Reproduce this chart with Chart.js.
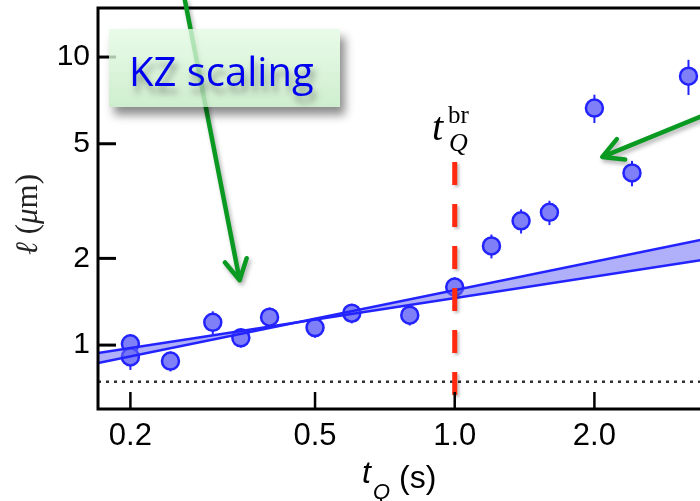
<!DOCTYPE html>
<html>
<head>
<meta charset="utf-8">
<script src="https://cdn.jsdelivr.net/npm/chart.js@4"></script>
<style>
  body { margin: 0; background: #fff; }
  #wrap { width: 700px; height: 501px; overflow: hidden; }
</style>
</head>
<body>
<div id="wrap"><canvas id="lengthChart" width="720" height="501"></canvas></div>
<script>
// quench time (s) vs. domain size (um)
var tQ = [0.2, 0.2, 0.244, 0.301, 0.346, 0.399, 0.50, 0.60, 0.80, 1.0, 1.20, 1.39, 1.60, 2.0, 2.41, 3.19];
var ell = [1.01, 0.91, 0.88, 1.20, 1.06, 1.25, 1.15, 1.29, 1.27, 1.59, 2.21, 2.70, 2.89, 6.65, 3.96, 8.58];
var ellErr = [0.08, 0.09, 0.07, 0.11, 0.08, 0.10, 0.09, 0.10, 0.10, 0.13, 0.21, 0.26, 0.28, 0.75, 0.40, 1.2];

// power-law fit band (two bounding lines)
var fitT = [0.1703, 3.73];
var fitSteep = [0.866, 2.39];
var fitShallow = [0.938, 2.02];

var xTicks = [0.2, 0.5, 1.0, 2.0];
var yTicks = [1, 2, 5, 10];

var floorLevel = 0.746;          // dotted resolution limit
var tBreak = 1.0;                // breakdown time
var breakSpan = [0.665, 4.32];

// annotation arrows: [t, ell] tail -> tip
var arrowTails = [[0.262, 15.8], [3.6, 6.46]];
var arrowTips = [[0.344, 1.68], [2.08, 4.50]];

var BLUE = '#2323ff';
var GREEN = '#0a9a22';

function drawArrow(ctx, x0, y0, x1, y1) {
    var ang = Math.atan2(y0 - y1, x0 - x1);
    var len = 23, spread = 0.5;
    ctx.beginPath();
    ctx.moveTo(x0, y0);
    ctx.lineTo(x1, y1);
    ctx.moveTo(x1 + len * Math.cos(ang - spread), y1 + len * Math.sin(ang - spread));
    ctx.lineTo(x1, y1);
    ctx.lineTo(x1 + len * Math.cos(ang + spread), y1 + len * Math.sin(ang + spread));
    ctx.stroke();
}

var decorations = {
    id: 'decorations',
    beforeDatasetsDraw: function(chart) {
        var ctx = chart.ctx, a = chart.chartArea;
        var xs = chart.scales.x, ys = chart.scales.y;
        ctx.save();
        ctx.beginPath();
        ctx.rect(a.left, a.top, a.right - a.left, a.bottom - a.top);
        ctx.clip();
        // dotted floor
        var yf = ys.getPixelForValue(floorLevel);
        ctx.strokeStyle = '#333';
        ctx.lineWidth = 2.5;
        ctx.setLineDash([3, 5]);
        ctx.beginPath();
        ctx.moveTo(a.left, yf);
        ctx.lineTo(a.right, yf);
        ctx.stroke();
        ctx.setLineDash([]);
        // error bars
        ctx.strokeStyle = BLUE;
        ctx.lineWidth = 2;
        for (var i = 0; i < tQ.length; i++) {
            var x = xs.getPixelForValue(tQ[i]);
            ctx.beginPath();
            ctx.moveTo(x, ys.getPixelForValue(ell[i] - ellErr[i]));
            ctx.lineTo(x, ys.getPixelForValue(ell[i] + ellErr[i]));
            ctx.stroke();
        }
        ctx.restore();
    },
    afterDatasetsDraw: function(chart) {
        var ctx = chart.ctx;
        var xs = chart.scales.x, ys = chart.scales.y;
        // breakdown marker
        var xb = xs.getPixelForValue(tBreak);
        ctx.save();
        ctx.shadowColor = 'rgba(0,0,0,0.25)';
        ctx.shadowBlur = 3;
        ctx.shadowOffsetX = 2;
        ctx.shadowOffsetY = 2;
        ctx.strokeStyle = '#ff2a10';
        ctx.lineWidth = 5;
        ctx.setLineDash([23, 19]);
        ctx.beginPath();
        ctx.moveTo(xb, ys.getPixelForValue(breakSpan[1]));
        ctx.lineTo(xb, ys.getPixelForValue(breakSpan[0]));
        ctx.stroke();
        ctx.restore();
    },
    afterDraw: function(chart) {
        var ctx = chart.ctx, a = chart.chartArea;
        var xs = chart.scales.x, ys = chart.scales.y;
        ctx.save();
        // frame
        ctx.strokeStyle = '#000';
        ctx.lineWidth = 3;
        ctx.strokeRect(a.left, a.top, a.right - a.left, a.bottom - a.top);
        // inward ticks
        ctx.lineWidth = 2.5;
        xTicks.forEach(function(v) {
            var x = xs.getPixelForValue(v);
            ctx.beginPath();
            ctx.moveTo(x, a.bottom);
            ctx.lineTo(x, a.bottom - 17);
            ctx.stroke();
        });
        ctx.lineWidth = 3;
        yTicks.forEach(function(v) {
            var y = ys.getPixelForValue(v);
            ctx.beginPath();
            ctx.moveTo(a.left, y);
            ctx.lineTo(a.left + 18, y);
            ctx.stroke();
        });

        // green arrows
        ctx.save();
        ctx.shadowColor = 'rgba(0,0,0,0.3)';
        ctx.shadowBlur = 4;
        ctx.shadowOffsetX = 2;
        ctx.shadowOffsetY = 3;
        ctx.strokeStyle = GREEN;
        ctx.lineWidth = 4.5;
        ctx.lineCap = 'round';
        ctx.lineJoin = 'round';
        for (var k = 0; k < arrowTails.length; k++) {
            drawArrow(ctx,
                xs.getPixelForValue(arrowTails[k][0]), ys.getPixelForValue(arrowTails[k][1]),
                xs.getPixelForValue(arrowTips[k][0]), ys.getPixelForValue(arrowTips[k][1]));
        }
        ctx.restore();

        // "KZ scaling" callout
        var bx = 109, by = 29, bw = 231, bh = 78;
        ctx.save();
        ctx.beginPath();
        ctx.rect(0, 0, chart.width, chart.height);
        ctx.rect(bx, by, bw, bh);
        ctx.clip('evenodd');
        ctx.shadowColor = 'rgba(0,0,0,0.45)';
        ctx.shadowBlur = 9;
        ctx.shadowOffsetX = 5;
        ctx.shadowOffsetY = 8;
        ctx.fillStyle = '#888';
        ctx.fillRect(bx, by, bw, bh);
        ctx.restore();
        var g = ctx.createLinearGradient(0, by, 0, by + bh);
        g.addColorStop(0, 'rgba(226,250,226,0.78)');
        g.addColorStop(1, 'rgba(196,234,196,0.82)');
        ctx.fillStyle = g;
        ctx.fillRect(bx, by, bw, bh);
        ctx.save();
        ctx.shadowColor = 'rgba(0,0,0,0.35)';
        ctx.shadowBlur = 6;
        ctx.shadowOffsetX = 3;
        ctx.shadowOffsetY = 7;
        ctx.fillStyle = '#0000f0';
        ctx.font = '40px "Open Sans"';
        ctx.textBaseline = 'alphabetic';
        ctx.fillText('KZ scaling', 129, 86);
        ctx.restore();

        // t_Q^br label
        ctx.fillStyle = '#000';
        ctx.font = 'italic 40px "Liberation Serif"';
        ctx.fillText('t', 432, 140);
        ctx.font = 'italic 26px "Liberation Serif"';
        ctx.fillText('Q', 449, 151);
        ctx.font = '25px "Liberation Serif"';
        ctx.fillText('br', 448, 123);

        // x title
        ctx.font = 'italic 32px "Liberation Sans"';
        ctx.fillText('t', 362, 483);
        ctx.font = 'italic 22px "Liberation Sans"';
        ctx.fillText('Q', 373, 499);
        ctx.font = '32px "Liberation Sans"';
        ctx.fillText('(s)', 399, 488);

        // y title
        ctx.fillStyle = '#222';
        ctx.translate(37, 255);
        ctx.rotate(-Math.PI / 2);
        ctx.font = 'italic 31px "Liberation Serif"';
        ctx.fillText('\u2113', 0, 0);
        var w = ctx.measureText('\u2113 ').width;
        ctx.font = '31px "Liberation Serif"';
        ctx.fillText('(', w, 0);
        w += ctx.measureText('(').width;
        ctx.font = 'italic 31px "Liberation Serif"';
        ctx.fillText('\u03bc', w, 0);
        w += ctx.measureText('\u03bc').width;
        ctx.font = '31px "Liberation Serif"';
        ctx.fillText('m)', w, 0);
        ctx.restore();
    }
};

var points = tQ.map(function(t, i) { return { x: t, y: ell[i] }; });
var steepLine = fitT.map(function(t, i) { return { x: t, y: fitSteep[i] }; });
var shallowLine = fitT.map(function(t, i) { return { x: t, y: fitShallow[i] }; });

new Chart(document.getElementById('lengthChart'), {
    type: 'scatter',
    data: {
        datasets: [{
            data: points,
            order: 2,
            pointRadius: 8.5,
            pointBackgroundColor: '#7f80f7',
            pointBorderColor: BLUE,
            pointBorderWidth: 2.5
        }, {
            data: steepLine,
            order: 1,
            showLine: true,
            pointRadius: 0,
            borderColor: BLUE,
            borderWidth: 2.5,
            fill: false
        }, {
            data: shallowLine,
            order: 1,
            showLine: true,
            pointRadius: 0,
            borderColor: BLUE,
            borderWidth: 2.5,
            backgroundColor: 'rgba(110,110,245,0.55)',
            fill: '-1'
        }]
    },
    options: {
        responsive: false,
        animation: false,
        layout: { autoPadding: false, padding: { top: 8, left: 0, right: 0, bottom: 0 } },
        plugins: {
            legend: { display: false },
            tooltip: { enabled: false }
        },
        scales: {
            x: {
                type: 'logarithmic',
                min: 0.1703,
                max: 3.73,
                grid: { display: false, drawTicks: false },
                border: { display: false },
                afterBuildTicks: function(scale) {
                    scale.ticks = xTicks.map(function(v) { return { value: v }; });
                },
                afterFit: function(scale) {
                    scale.height = 92;
                    scale.paddingLeft = 0;
                    scale.paddingRight = 0;
                },
                ticks: {
                    autoSkip: false,
                    maxRotation: 0,
                    padding: 9,
                    color: '#000',
                    font: { family: 'Liberation Sans', size: 31 },
                    callback: function(v) { return Number(v).toFixed(1); }
                }
            },
            y: {
                type: 'logarithmic',
                min: 0.60,
                max: 14.8,
                grid: { display: false, drawTicks: false },
                border: { display: false },
                afterBuildTicks: function(scale) {
                    scale.ticks = yTicks.map(function(v) { return { value: v }; });
                },
                afterFit: function(scale) {
                    scale.width = 98;
                    scale.paddingTop = 0;
                    scale.paddingBottom = 0;
                },
                ticks: {
                    autoSkip: false,
                    padding: 8,
                    color: '#000',
                    font: { family: 'Liberation Sans', size: 30 },
                    callback: function(v) { return String(v); }
                }
            }
        }
    },
    plugins: [decorations]
});
</script>
</body>
</html>
